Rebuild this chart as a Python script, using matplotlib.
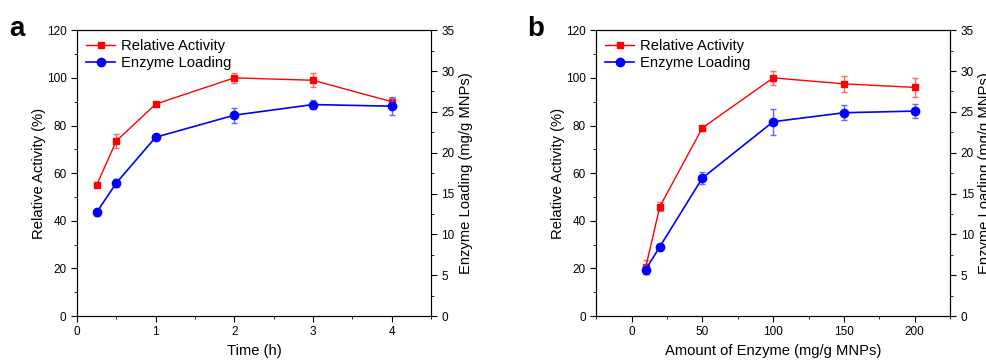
import numpy as np
import matplotlib.pyplot as plt
from matplotlib.ticker import MultipleLocator
from matplotlib.lines import Line2D

plt.rcParams['font.family'] = ['Liberation Sans', 'DejaVu Sans']

# panel a: time
time_h = [0.25, 0.5, 1, 2, 3, 4]
act_a = [55, 73.5, 89, 100, 99, 90]
act_a_err = [0.6, 3.0, 0.6, 2.0, 3.0, 1.5]
load_a = [12.7, 16.3, 21.9, 24.6, 25.9, 25.7]
load_a_err = [0.4, 0.5, 0.3, 0.9, 0.5, 1.1]

# panel b: amount of enzyme
amount = [10, 20, 50, 100, 150, 200]
act_b = [20.5, 46, 79, 100, 97.5, 96]
act_b_err = [3.0, 2.0, 0.6, 3.0, 3.3, 4.0]
load_b = [5.7, 8.5, 16.9, 23.8, 24.9, 25.1]
load_b_err = [0.6, 0.2, 0.7, 1.6, 0.9, 0.9]


def panel(rect, x, act, act_err, load, load_err, xlim, xmaj, xmin, xlabel, letter, lx):
    ax = fig.add_axes(rect)
    ax2 = ax.twinx()
    ax.errorbar(x, act, yerr=act_err, color='red', marker='s', ms=5, lw=1,
                ecolor=(1, 0.4, 0.4), elinewidth=1, capsize=2, zorder=3)
    ax2.errorbar(x, load, yerr=load_err, color='blue', marker='o', ms=6, lw=1.2,
                 ecolor=(0.4, 0.4, 1), elinewidth=1, capsize=2)
    ax.set_xlim(*xlim)
    ax.set_ylim(0, 120)
    ax2.set_ylim(0, 35)
    ax.xaxis.set_major_locator(MultipleLocator(xmaj))
    ax.xaxis.set_minor_locator(MultipleLocator(xmin))
    ax.yaxis.set_major_locator(MultipleLocator(20))
    ax.yaxis.set_minor_locator(MultipleLocator(10))
    ax2.yaxis.set_major_locator(MultipleLocator(5))
    ax2.yaxis.set_minor_locator(MultipleLocator(2.5))
    for a in (ax, ax2):
        a.tick_params(which='both', direction='out', labelsize=8.5)
        a.tick_params(which='major', length=4)
        a.tick_params(which='minor', length=2.5)
    ax.set_xlabel(xlabel, fontsize=10.6, labelpad=4)
    ax.set_ylabel('Relative Activity (%)', fontsize=10.6, labelpad=0.5)
    ax2.set_ylabel('Enzyme Loading (mg/g MNPs)', fontsize=10.6, labelpad=3)
    handles = [Line2D([], [], color='red', marker='s', ms=5, lw=1),
               Line2D([], [], color='blue', marker='o', ms=6, lw=1.2)]
    ax.legend(handles, ['Relative Activity', 'Enzyme Loading'], loc='upper left',
              frameon=False, fontsize=10.6, handlelength=2, borderaxespad=0.2,
              labelspacing=0.2, handletextpad=0.4)
    fig.text(lx, 0.9, letter, fontsize=20, fontweight='bold')


fig = plt.figure(figsize=(9.87, 3.6), dpi=100)
panel([0.078, 0.122, 0.3587, 0.794], time_h, act_a, act_a_err, load_a, load_a_err,
      (0, 4.5), 1, 0.5, 'Time (h)', 'a', 0.009)
panel([0.604, 0.122, 0.3587, 0.794], amount, act_b, act_b_err, load_b, load_b_err,
      (-25, 225), 50, 25, 'Amount of Enzyme (mg/g MNPs)', 'b', 0.534)

fig.savefig('out.png', dpi=100)
